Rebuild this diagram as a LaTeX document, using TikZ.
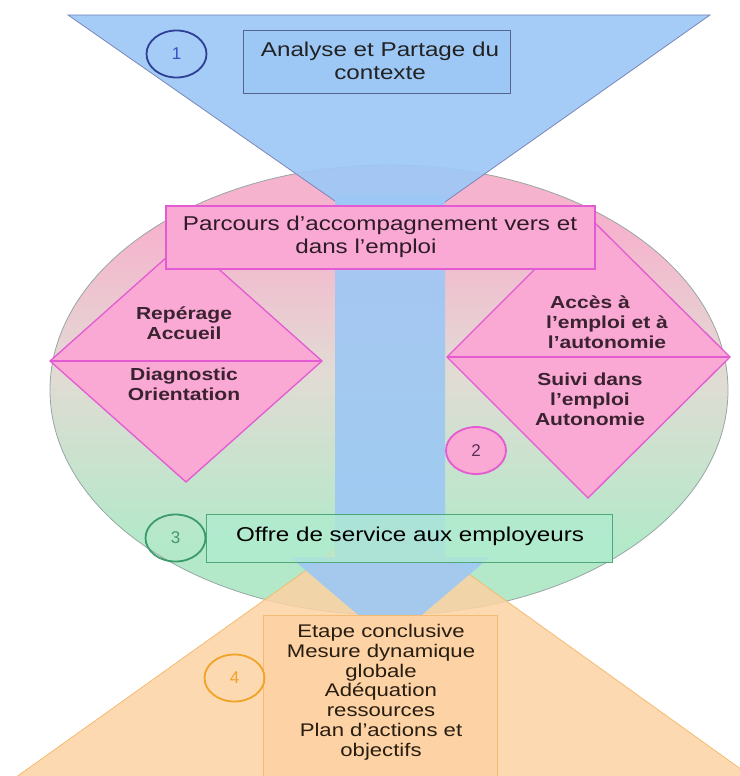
\documentclass[tikz,border=0pt]{standalone}
\usepackage{fontspec}
\setmainfont{Liberation Sans}[FakeStretch=1.21]
\newfontfamily\numfont{Liberation Sans}
\usetikzlibrary{shapes.geometric}
\definecolor{bluefill}{HTML}{9DC8F5}
\definecolor{blueline}{HTML}{7B86B8}
\definecolor{boxline}{HTML}{56648F}
\definecolor{pinktop}{HTML}{F6B3CD}
\definecolor{greenbot}{HTML}{B3E9C9}
\definecolor{midmix}{HTML}{E2DBD4}
\definecolor{ellline}{HTML}{98A6A4}
\definecolor{pinkfill}{HTML}{F9A9D3}
\definecolor{magline}{HTML}{E35AD2}
\definecolor{orangefill}{HTML}{FDD2A4}
\definecolor{orangeline}{HTML}{F3BC70}
\definecolor{orangedark}{HTML}{F0A326}
\definecolor{greenfill}{HTML}{B0ECD0}
\definecolor{greenline}{HTML}{4FA87B}
\definecolor{greendark}{HTML}{3C9A6C}
\definecolor{circblue}{HTML}{2E3F96}
\definecolor{numblue}{HTML}{3450C4}
\definecolor{textdark}{HTML}{222222}
\definecolor{diamtext}{HTML}{3A2230}
\definecolor{numpurple}{HTML}{5A2E5A}
\pgfdeclareverticalshading{ellshade}{100bp}{color(0bp)=(greenbot); color(33bp)=(greenbot); color(52bp)=(midmix); color(68bp)=(pinktop); color(100bp)=(pinktop)}
\begin{document}
\begin{tikzpicture}[x=1pt,y=-1pt,
  txt/.style={font=\fontsize{20}{23}\selectfont, align=center, text=textdark, inner sep=0pt},
  smalltxt/.style={font=\fontsize{18.3}{19.8}\selectfont, align=center, text=textdark!85!orange!60!black, inner sep=0pt},
  boldtxt/.style={font=\fontsize{17.4}{19.8}\selectfont\bfseries, align=center, text=diamtext, inner sep=0pt},
  numcirc/.style={ellipse, minimum width=60pt, minimum height=47pt, line width=1.8pt, inner sep=0pt, font=\numfont\fontsize{17}{17}\selectfont},
  bluebox/.style={rectangle, draw=boxline, fill=bluefill, line width=0.8pt, inner sep=0pt},
  pinkbox/.style={rectangle, draw=magline, fill=pinkfill, line width=1.5pt, inner sep=0pt},
  greenbox/.style={rectangle, draw=greenline, fill=greenfill, fill opacity=0.75, line width=1pt, inner sep=0pt},
  orangebox/.style={rectangle, draw=orangeline, fill=orangefill, line width=1pt, inner sep=0pt},
  diam/.style={draw=magline, fill=pinkfill, line width=1.3pt, line join=miter}
]
\useasboundingbox (0,0) rectangle (739,776);
% big ellipse
\node[ellipse, draw=ellline, line width=0.8pt, minimum width=678pt, minimum height=450pt,
      shading=ellshade] (ell) at (389,390) {};
% orange triangle
\fill[orangefill, fill opacity=0.85] (385,514) -- (-16,800) -- (784,800) -- cycle;
\draw[orangeline, line width=0.8pt] (-16,800) -- (385,514) -- (784,800);
% blue funnel
\path[fill=bluefill, fill opacity=0.93, draw=blueline, line width=0.8pt] (68,15) -- (710,15) -- (391,240) -- cycle;
\path[fill=bluefill, fill opacity=0.9] (335,195) -- (445,195) -- (445,557) -- (490,557) -- (390,642) -- (290,557) -- (335,557) -- cycle;
% analyse box
\node[bluebox, minimum width=267pt, minimum height=63pt] (analyse) at (377,61.5) {};
\node[txt] (analyseT) at (380,60.5) {Analyse et Partage du\\contexte};
% diamonds
\path[diam] (50,361) coordinate (dlw) -- (186,240) -- (322,361) coordinate (dle) -- (186,482) -- cycle;
\draw[magline, line width=1.3pt] (dlw) -- (dle);
\path[diam] (447,357) coordinate (drw) -- (588,216) -- (730,357) coordinate (dre) -- (588,498) -- cycle;
\draw[magline, line width=1.3pt] (drw) -- (dre);
% parcours box
\node[pinkbox, minimum width=429pt, minimum height=63pt] (parcours) at (380.5,237.5) {};
\node[txt, text=diamtext!80!black] (parcoursT) at (380,236.5) {Parcours d’accompagnement vers et\\dans l’emploi\hspace*{28pt}};
% diamond texts
\node[boldtxt] (rep) at (184,323) {Repérage\\Accueil};
\node[boldtxt] (diag) at (184,384.5) {Diagnostic\\Orientation};
\node[boldtxt] (acces) at (590,322) {Accès à\\\hspace*{34pt}l’emploi et à\\\hspace*{34pt}l’autonomie};
\node[boldtxt] (suivi) at (590,399.5) {Suivi dans\\l’emploi\\Autonomie};
% circle 2
\node[numcirc, draw=magline, fill=pinkfill, text=numpurple] (c2) at (476,450.5) {2};
% offre box
\node[greenbox, minimum width=406pt, minimum height=48pt] (offre) at (409,538) {};
\node[txt, text=black] (offreT) at (410,536) {Offre de service aux employeurs};
% circles 1 and 3
\node[numcirc, draw=circblue, text=numblue] (c1) at (176.5,54) {1};
\node[numcirc, draw=greendark, text=greendark!80!gray] (c3) at (175.5,538) {3};
% orange box
\node[orangebox, minimum width=234pt, minimum height=190pt, anchor=north] (etape) at (380,615) {};
\node[smalltxt, anchor=north] (etapeT) at (381,624) {Etape conclusive\\Mesure dynamique\\globale\\Adéquation\\ressources\\Plan d’actions et\\objectifs};
% circle 4
\node[numcirc, draw=orangedark, text=orangedark] (c4) at (234.5,678) {4};
\end{tikzpicture}
\end{document}
